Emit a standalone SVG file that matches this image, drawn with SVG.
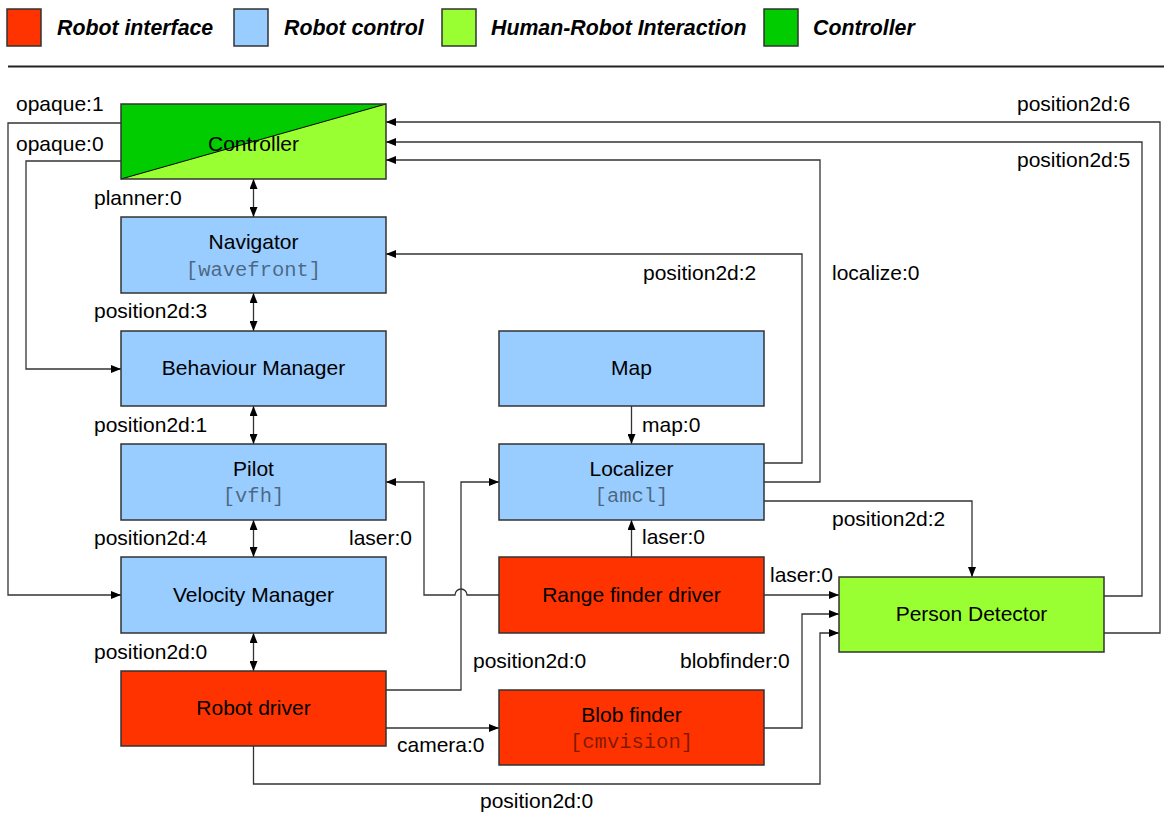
<svg xmlns="http://www.w3.org/2000/svg" width="1164" height="813" viewBox="0 0 1164 813">
<style>
text{font-family:"Liberation Sans",Arial,sans-serif;font-size:21px;fill:#000}
.leg{font-weight:bold;font-style:italic;font-size:21.3px}
.t{text-anchor:middle}
.m{font-family:"Liberation Mono","Courier New",monospace;font-size:20.5px;text-anchor:middle;fill:#000;fill-opacity:0.5}
.box{stroke:#333;stroke-width:1.5}
.red{fill:#ff3300}.blue{fill:#99ccff}.lg{fill:#99ff33}.dg{fill:#00cc00}
.c path,.c line{fill:none;stroke:#333;stroke-width:1.3}
</style>
<defs>
<marker id="a" viewBox="0 0 10 8" refX="10" refY="4" markerWidth="10" markerHeight="8" markerUnits="userSpaceOnUse" orient="auto-start-reverse"><path d="M0,0L10,4L0,8z" fill="#000"/></marker>
</defs>
<rect width="1164" height="813" fill="#fff"/>
<g id="legend">
<rect x="7" y="9" width="34" height="37" class="box red" stroke-width="1"/>
<text x="57" y="35" class="leg">Robot interface</text>
<rect x="234" y="9" width="34" height="37" class="box blue" stroke-width="1"/>
<text x="284" y="35" class="leg">Robot control</text>
<rect x="442" y="9" width="34" height="37" class="box lg" stroke-width="1"/>
<text x="491" y="35" class="leg">Human-Robot Interaction</text>
<rect x="764" y="9" width="34" height="37" class="box dg" stroke-width="1"/>
<text x="813" y="35" class="leg">Controller</text>
<line x1="8" y1="66.5" x2="1164" y2="66.5" stroke="#222" stroke-width="2"/>
</g>
<g class="c" id="connectors">
<path d="M121,123H8V595H121" marker-end="url(#a)"/>
<path d="M121,161H26V369H121" marker-end="url(#a)"/>
<line x1="253.5" y1="179" x2="253.5" y2="217" marker-start="url(#a)" marker-end="url(#a)"/>
<line x1="253.5" y1="293" x2="253.5" y2="331" marker-start="url(#a)" marker-end="url(#a)"/>
<line x1="253.5" y1="406" x2="253.5" y2="444" marker-start="url(#a)" marker-end="url(#a)"/>
<line x1="253.5" y1="520" x2="253.5" y2="557" marker-start="url(#a)" marker-end="url(#a)"/>
<line x1="253.5" y1="633" x2="253.5" y2="671" marker-start="url(#a)" marker-end="url(#a)"/>
<path d="M764,463H802V254H386" marker-end="url(#a)"/>
<path d="M764,482H820V160H386" marker-end="url(#a)"/>
<path d="M1104,596H1142V142H386" marker-end="url(#a)"/>
<path d="M1104,633H1160V122H386" marker-end="url(#a)"/>
<path d="M764,501H972V577" marker-end="url(#a)"/>
<path d="M764,595H839" marker-end="url(#a)"/>
<path d="M764,728H802V614H839" marker-end="url(#a)"/>
<path d="M253.5,746V784H820V633H839" marker-end="url(#a)"/>
<path d="M386,690H461V482H499" marker-end="url(#a)"/>
<path d="M499,595H467A6,6 0 0 0 455,595H424V482H386" marker-end="url(#a)"/>
<path d="M631.5,557V520" marker-end="url(#a)"/>
<path d="M631.5,406V444" marker-end="url(#a)"/>
<path d="M386,728H499" marker-end="url(#a)"/>
</g>
<g id="labels">
<text x="16" y="111">opaque:1</text>
<text x="16" y="151">opaque:0</text>
<text x="94" y="205">planner:0</text>
<text x="94" y="318">position2d:3</text>
<text x="94" y="432">position2d:1</text>
<text x="94" y="545">position2d:4</text>
<text x="94" y="659">position2d:0</text>
<text x="349" y="545">laser:0</text>
<text x="642" y="544">laser:0</text>
<text x="770" y="582">laser:0</text>
<text x="832" y="526">position2d:2</text>
<text x="643" y="280">position2d:2</text>
<text x="832" y="280">localize:0</text>
<text x="1017" y="111">position2d:6</text>
<text x="1017" y="167">position2d:5</text>
<text x="642" y="432">map:0</text>
<text x="473" y="668">position2d:0</text>
<text x="680" y="668">blobfinder:0</text>
<text x="397" y="752">camera:0</text>
<text x="480" y="808">position2d:0</text>
</g>
<g id="controller">
<rect x="121" y="104" width="265" height="75" fill="#99ff33"/>
<polygon points="121,104 386,104 121,179" fill="#00cc00"/>
<line x1="121" y1="179" x2="386" y2="104" stroke="#000" stroke-width="1"/>
<rect x="121" y="104" width="265" height="75" fill="none" class="box"/>
<text x="253.5" y="151" class="t">Controller</text>
</g>
<g id="navigator">
<rect x="121" y="217" width="265" height="76" class="box blue"/>
<text x="253.5" y="249" class="t">Navigator</text>
<text x="253.5" y="276" class="m">[wavefront]</text>
</g>
<g id="behaviour">
<rect x="121" y="331" width="265" height="75" class="box blue"/>
<text x="253.5" y="375" class="t">Behaviour Manager</text>
</g>
<g id="pilot">
<rect x="121" y="444" width="265" height="76" class="box blue"/>
<text x="253.5" y="476" class="t">Pilot</text>
<text x="253.5" y="502" class="m">[vfh]</text>
</g>
<g id="velocity">
<rect x="121" y="557" width="265" height="76" class="box blue"/>
<text x="253.5" y="602" class="t">Velocity Manager</text>
</g>
<g id="robotdriver">
<rect x="121" y="671" width="265" height="75" class="box red"/>
<text x="253.5" y="715" class="t">Robot driver</text>
</g>
<g id="map">
<rect x="499" y="331" width="265" height="75" class="box blue"/>
<text x="631.5" y="375" class="t">Map</text>
</g>
<g id="localizer">
<rect x="499" y="444" width="265" height="76" class="box blue"/>
<text x="631.5" y="476" class="t">Localizer</text>
<text x="631.5" y="502" class="m">[amcl]</text>
</g>
<g id="rangefinder">
<rect x="499" y="557" width="265" height="76" class="box red"/>
<text x="631.5" y="602" class="t">Range finder driver</text>
</g>
<g id="blobfinder">
<rect x="499" y="690" width="265" height="75" class="box red"/>
<text x="631.5" y="722" class="t">Blob finder</text>
<text x="631.5" y="748" class="m">[cmvision]</text>
</g>
<g id="persondetector">
<rect x="839" y="577" width="265" height="75" class="box lg"/>
<text x="971.5" y="621" class="t">Person Detector</text>
</g>
</svg>
